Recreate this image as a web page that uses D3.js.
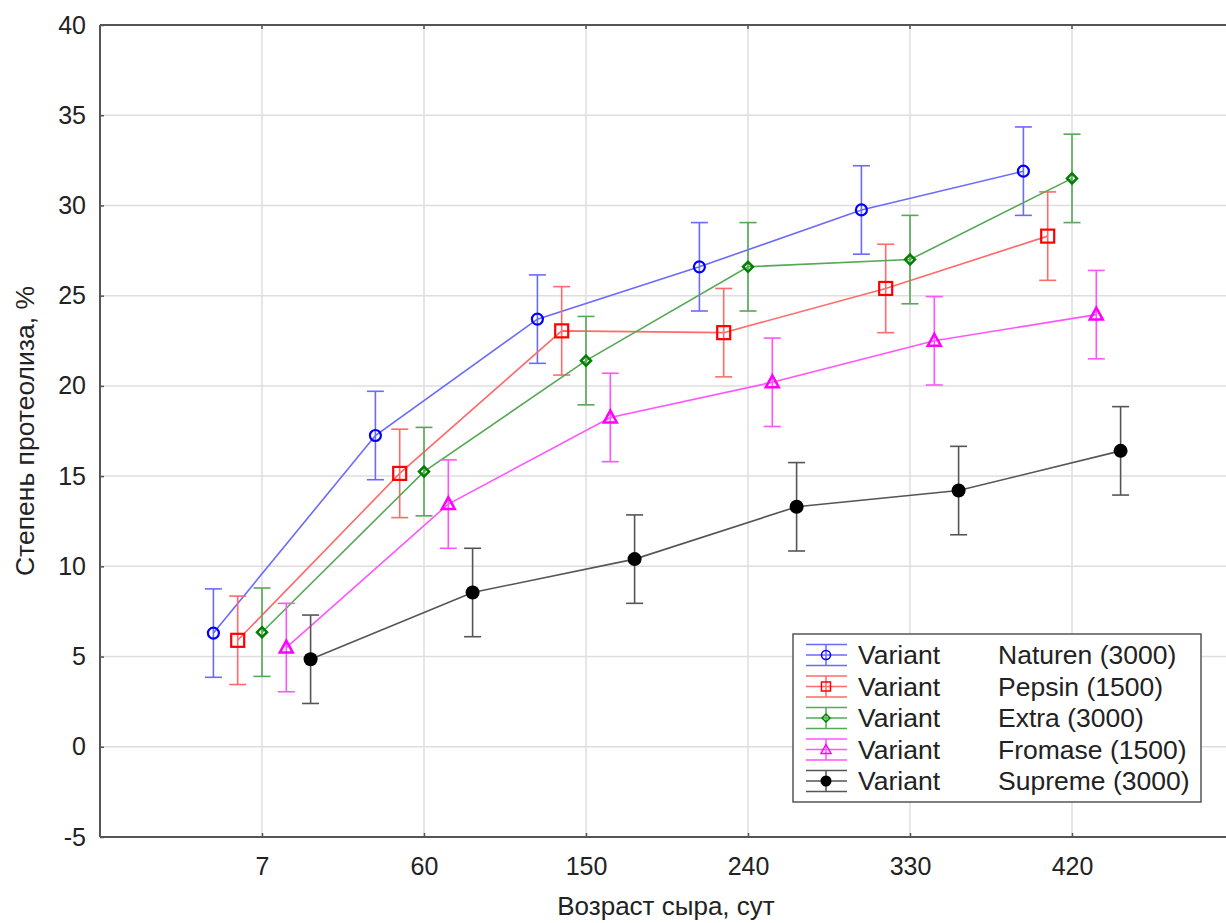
<!DOCTYPE html>
<html><head><meta charset="utf-8">
<script src="https://cdn.jsdelivr.net/npm/d3@7/dist/d3.min.js"></script>
<style>body{margin:0;background:#fff;} text{font-family:"Liberation Sans",Arial,sans-serif;}</style>
</head><body><svg id="c" width="1226" height="923"></svg>
<script>
const categories = ["7","60","150","240","330","420"];
const seriesNames = ["Naturen (3000)","Pepsin (1500)","Extra (3000)","Fromase (1500)","Supreme (3000)"];
const naturen = [6.3, 17.25, 23.7, 26.6, 29.75, 31.9];
const pepsin  = [5.9, 15.15, 23.05, 22.95, 25.4, 28.3];
const extra   = [6.35, 15.25, 21.4, 26.6, 27.0, 31.5];
const fromase = [5.5, 13.45, 18.25, 20.2, 22.5, 23.95];
const supreme = [4.85, 8.55, 10.4, 13.3, 14.2, 16.4];
const naturenErr = [2.45, 2.45, 2.45, 2.45, 2.45, 2.45];
const pepsinErr  = [2.45, 2.45, 2.45, 2.45, 2.45, 2.45];
const extraErr   = [2.45, 2.45, 2.45, 2.45, 2.45, 2.45];
const fromaseErr = [2.45, 2.45, 2.45, 2.45, 2.45, 2.45];
const supremeErr = [2.45, 2.45, 2.45, 2.45, 2.45, 2.45];
const yTicks = [-5,0,5,10,15,20,25,30,35,40];

const series = [
  {name:seriesNames[0], vals:naturen, err:naturenErr, color:"#0000ff", line:"#6a6aff", sym:"circle", off:-0.3},
  {name:seriesNames[1], vals:pepsin, err:pepsinErr, color:"#ff0000", line:"#ff6a6a", sym:"square", off:-0.15},
  {name:seriesNames[2], vals:extra, err:extraErr, color:"#008000", line:"#55a855", sym:"diamond", off:0},
  {name:seriesNames[3], vals:fromase, err:fromaseErr, color:"#ff00ff", line:"#ff55ff", sym:"triangle", off:0.15},
  {name:seriesNames[4], vals:supreme, err:supremeErr, color:"#000000", line:"#555555", sym:"dot", off:0.3}
];

const FONT = "Liberation Sans, Arial, sans-serif";
const TXT = "#222";
const svg = d3.select("#c");
const L=100, T=25, B=837;
const x = d3.scaleLinear().domain([0,7]).range([L, L+7*162]);
const y = d3.scaleLinear().domain([-5,40]).range([B, T]);
const W = 1240;

// grid
const g = svg.append("g");
g.selectAll(".gy").data(yTicks).enter().append("line")
  .attr("x1",L).attr("x2",W).attr("y1",d=>y(d)).attr("y2",d=>y(d))
  .attr("stroke","#dedede").attr("stroke-width",1.5);
g.selectAll(".gx").data(categories).enter().append("line")
  .attr("x1",(d,i)=>x(i+1)).attr("x2",(d,i)=>x(i+1)).attr("y1",T).attr("y2",B)
  .attr("stroke","#dedede").attr("stroke-width",1.5);

// frame
svg.append("line").attr("x1",L).attr("x2",W).attr("y1",T).attr("y2",T).attr("stroke","#555").attr("stroke-width",2);
svg.append("line").attr("x1",L).attr("x2",W).attr("y1",B).attr("y2",B).attr("stroke","#555").attr("stroke-width",2);
svg.append("line").attr("x1",L).attr("x2",L).attr("y1",T).attr("y2",B).attr("stroke","#555").attr("stroke-width",2);

// axes
const yAxis = d3.axisLeft(y).tickValues(yTicks).tickSize(-4).tickPadding(14).tickFormat(d=>String(d));
const ya = svg.append("g").attr("transform",`translate(${L},0)`).call(yAxis);
ya.select(".domain").remove();
ya.selectAll("line").attr("stroke","#555").attr("stroke-width",1.5);
ya.selectAll("text").attr("font-size",25).attr("fill",TXT).attr("font-family",FONT);

const xAxis = d3.axisBottom(x).tickValues([1,2,3,4,5,6]).tickSize(-4).tickPadding(20).tickFormat(d=>categories[d-1]);
const xa = svg.append("g").attr("transform",`translate(0,${B})`).call(xAxis);
xa.select(".domain").remove();
xa.selectAll("line").attr("stroke","#555").attr("stroke-width",1.5);
xa.selectAll("text").attr("font-size",25).attr("fill",TXT).attr("font-family",FONT);
// top ticks
svg.selectAll(".tt").data([1,2,3,4,5,6]).enter().append("line")
  .attr("x1",d=>x(d)).attr("x2",d=>x(d)).attr("y1",T).attr("y2",T+4).attr("stroke","#555").attr("stroke-width",1.5);

svg.append("text").attr("x",666).attr("y",915).attr("text-anchor","middle").attr("font-size",26).attr("fill",TXT).text("Возраст сыра, сут");
svg.append("text").attr("transform",`translate(34,${y(17.5)}) rotate(-90)`).attr("text-anchor","middle").attr("font-size",26.5).attr("fill",TXT).text("Степень протеолиза, %");

function drawSymbol(sel, s, cx, cy){
  if(s.sym==="circle") sel.append("circle").attr("cx",cx).attr("cy",cy).attr("r",5.5).attr("fill","none").attr("stroke",s.color).attr("stroke-width",2.2);
  else if(s.sym==="square") sel.append("rect").attr("x",cx-6.5).attr("y",cy-6.5).attr("width",13).attr("height",13).attr("fill","none").attr("stroke",s.color).attr("stroke-width",2.2);
  else if(s.sym==="diamond") sel.append("path").attr("d",`M${cx},${cy-5}L${cx+5},${cy}L${cx},${cy+5}L${cx-5},${cy}Z`).attr("fill","none").attr("stroke",s.color).attr("stroke-width",2.5);
  else if(s.sym==="triangle") sel.append("path").attr("d",`M${cx},${cy-7}L${cx+6.5},${cy+5}L${cx-6.5},${cy+5}Z`).attr("fill","none").attr("stroke",s.color).attr("stroke-width",2.5);
  else sel.append("circle").attr("cx",cx).attr("cy",cy).attr("r",7).attr("fill",s.color);
}

const clipG = svg.append("g");
series.forEach(s=>{
  const pts = s.vals.map((v,i)=>({x:x(i+1+s.off), y:y(v), lo:y(v-s.err[i]), hi:y(v+s.err[i])}));
  clipG.append("path").datum(pts).attr("d",d3.line().x(d=>d.x).y(d=>d.y))
    .attr("fill","none").attr("stroke",s.line).attr("stroke-width",1.6);
  pts.forEach(p=>{
    clipG.append("line").attr("x1",p.x).attr("x2",p.x).attr("y1",p.lo).attr("y2",p.hi).attr("stroke",s.line).attr("stroke-width",1.6);
    clipG.append("line").attr("x1",p.x-8.5).attr("x2",p.x+8.5).attr("y1",p.lo).attr("y2",p.lo).attr("stroke",s.line).attr("stroke-width",1.6);
    clipG.append("line").attr("x1",p.x-8.5).attr("x2",p.x+8.5).attr("y1",p.hi).attr("y2",p.hi).attr("stroke",s.line).attr("stroke-width",1.6);
  });
  pts.forEach(p=>drawSymbol(clipG, s, p.x, p.y));
});

// legend
const lg = svg.append("g");
lg.append("rect").attr("x",793).attr("y",634).attr("width",408).attr("height",168).attr("fill","#fff").attr("stroke","#555").attr("stroke-width",1.5);
series.forEach((s,i)=>{
  const cy = 655 + i*31.5;
  const cx = 826;
  lg.append("line").attr("x1",806).attr("x2",847).attr("y1",cy-10.5).attr("y2",cy-10.5).attr("stroke",s.line).attr("stroke-width",1.5);
  lg.append("line").attr("x1",806).attr("x2",847).attr("y1",cy+10.5).attr("y2",cy+10.5).attr("stroke",s.line).attr("stroke-width",1.5);
  lg.append("line").attr("x1",806).attr("x2",847).attr("y1",cy).attr("y2",cy).attr("stroke",s.line).attr("stroke-width",1.5);
  lg.append("line").attr("x1",cx).attr("x2",cx).attr("y1",cy-10.5).attr("y2",cy+10.5).attr("stroke",s.line).attr("stroke-width",1.5);
  const gg = lg.append("g");
  if(s.sym==="circle") gg.append("circle").attr("cx",cx).attr("cy",cy).attr("r",4.5).attr("fill","none").attr("stroke",s.color).attr("stroke-width",1.5);
  else if(s.sym==="square") gg.append("rect").attr("x",cx-4.5).attr("y",cy-4.5).attr("width",9).attr("height",9).attr("fill","none").attr("stroke",s.color).attr("stroke-width",1.5);
  else if(s.sym==="diamond") gg.append("path").attr("d",`M${cx},${cy-4}L${cx+4},${cy}L${cx},${cy+4}L${cx-4},${cy}Z`).attr("fill","none").attr("stroke",s.color).attr("stroke-width",1.5);
  else if(s.sym==="triangle") gg.append("path").attr("d",`M${cx},${cy-5}L${cx+5},${cy+4}L${cx-5},${cy+4}Z`).attr("fill","none").attr("stroke",s.color).attr("stroke-width",1.5);
  else gg.append("circle").attr("cx",cx).attr("cy",cy).attr("r",5.5).attr("fill",s.color);
  lg.append("text").attr("x",858).attr("y",cy+9).attr("font-size",26.5).attr("fill",TXT).text("Variant");
  lg.append("text").attr("x",998).attr("y",cy+9).attr("font-size",26.5).attr("fill",TXT).text(s.name);
});
</script></body></html>
